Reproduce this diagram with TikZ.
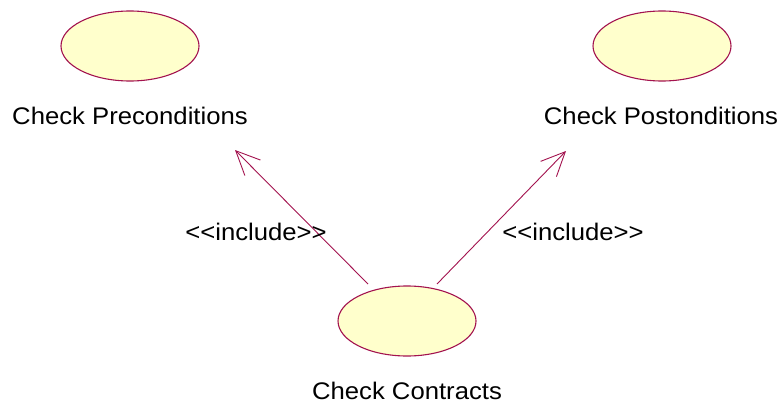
\documentclass[tikz,border=0pt]{standalone}
\usepackage{fontspec}
\setmainfont{Liberation Sans}[FakeStretch=1.07]
\usetikzlibrary{shapes.geometric,arrows.meta}
\definecolor{ucline}{HTML}{A3134F}
\definecolor{ucfill}{HTML}{FFFFCC}
\begin{document}
\begin{tikzpicture}[x=1pt,y=-1pt,
  usecase/.style={ellipse,draw=ucline,fill=ucfill,line width=1.1pt,minimum width=138pt,minimum height=70pt,inner sep=0pt},
  lbl/.style={anchor=base,inner sep=0pt,font=\fontsize{24}{28}\selectfont},
  incl/.style={draw=ucline,line width=0.9pt,-{Straight Barb[length=24pt,width=22pt,line width=0.9pt]}}]
\useasboundingbox[fill=white] (0,0) rectangle (783,404);
\node[usecase] (pre) at (130,46) {};
\node[usecase] (post) at (662,46) {};
\node[usecase] (cc) at (407,321) {};
\node[lbl] (preL) at (130,124.3) {Check Preconditions};
\node[lbl] (postL) at (661,124.3) {Check Postonditions};
\node[lbl] (ccL) at (407,399) {Check Contracts};
\coordinate (s1) at (368,284);
\coordinate (t1) at (235,150);
\coordinate (s2) at (437,284);
\coordinate (t2) at (566,151);
\draw[incl] (s1) -- (t1);
\draw[incl] (s2) -- (t2);
\node[lbl] (i1) at (256,240) {<\kern0pt<include>\kern0pt>};
\node[lbl] (i2) at (573,240) {<\kern0pt<include>\kern0pt>};
\end{tikzpicture}
\end{document}
